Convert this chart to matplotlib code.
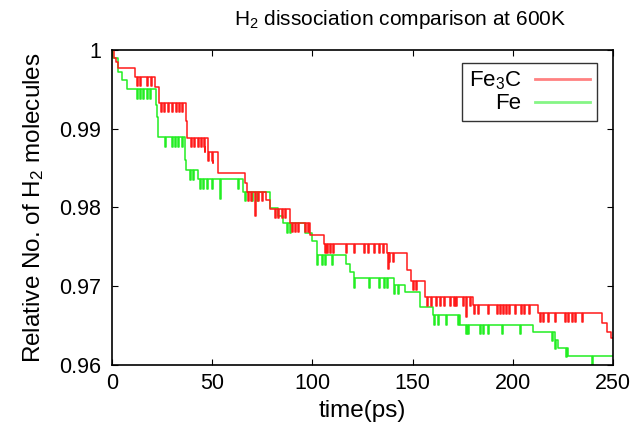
import numpy as np
import matplotlib
matplotlib.use("Agg")
import matplotlib.pyplot as plt

plt.rcParams["font.family"] = ["Liberation Sans", "DejaVu Sans"]
plt.rcParams["mathtext.default"] = "regular"

_RED = "#ff1a1a"
_GREEN = "#22ee22"

# step levels (time in ps, relative number of H2 molecules)
fe3c_t = [0, 1, 2, 3, 11.5, 21.5, 23.5, 37, 37.5, 46.5, 50.5, 53, 66.5, 67.5, 77, 79,
          89, 99, 106, 137, 147, 149, 156, 180, 212.5, 244.5, 247, 249]
fe3c_v = [1.0, 0.9990, 0.9985, 0.99775, 0.99661, 0.99534, 0.99327, 0.9910, 0.98883,
          0.98705, 0.98565, 0.98438, 0.98311, 0.98197, 0.98095, 0.97981, 0.97803,
          0.97651, 0.97537, 0.97422, 0.97206, 0.97067, 0.96863, 0.96762, 0.96660,
          0.96533, 0.96419, 0.96343]

fe_t = [0, 0.5, 3, 5, 7.5, 22, 22.5, 23, 36.5, 37, 43, 65.5, 79, 83, 85.5, 96.5, 100,
        102.5, 116.5, 118.5, 120.5, 137.5, 146, 153.5, 160, 173.5, 210, 220, 222.5, 227.5]
fe_v = [1.0, 0.9990, 0.9972, 0.9962, 0.9950, 0.9930, 0.9915, 0.9889, 0.9860, 0.9847,
        0.9836, 0.9820, 0.9799, 0.9789, 0.9780, 0.9768, 0.9757, 0.9739, 0.9728,
        0.9718, 0.9710, 0.9702, 0.9692, 0.9673, 0.9663, 0.9651, 0.9642, 0.9632,
        0.9622, 0.9611]

# short-lived dips (time in ps, depth in units of the relative count)
fe3c_spike_t = [12.5, 14, 17.5, 19.5, 24.5, 26, 28, 30, 32, 33.5, 35, 39.5, 41, 43,
                44.5, 46, 48, 50, 68, 69.5, 71.5, 73, 75, 81.5, 83, 85, 86.5, 90, 91.5,
                93, 96.5, 98, 106.5, 107.5, 109, 110.5, 116.5, 120.5, 125.5, 127.5,
                130.5, 133, 135, 137.5, 138, 140, 150, 151.5, 157, 159, 161.5, 163.5,
                165.5, 168.5, 170.5, 171.5, 175, 176.5, 178.5, 180.5, 182.5, 187.5,
                192, 193.5, 195, 196.5, 198, 201, 204, 205.5, 208, 213.5, 215, 217.5,
                221, 226, 227.5, 229.5, 231, 234.5]
fe3c_spike_d = [0.0012, 0.0012, 0.0012, 0.0012, 0.0012, 0.0012, 0.0012, 0.0012, 0.0012,
                0.0012, 0.0012, 0.0012, 0.0012, 0.0012, 0.0012, 0.0012, 0.0012, 0.0012,
                0.0012, 0.0012, 0.0030, 0.0012, 0.0012, 0.0012, 0.0012, 0.0012, 0.0012,
                0.0012, 0.0012, 0.0012, 0.0012, 0.0012, 0.0012, 0.0012, 0.0012, 0.0012,
                0.0012, 0.0012, 0.0012, 0.0012, 0.0012, 0.0012, 0.0012, 0.0020, 0.0012,
                0.0012, 0.0012, 0.0012, 0.0012, 0.0012, 0.0012, 0.0012, 0.0012, 0.0012,
                0.0012, 0.0012, 0.0012, 0.0025, 0.0012, 0.0012, 0.0012, 0.0012, 0.0012,
                0.0012, 0.0012, 0.0012, 0.0012, 0.0012, 0.0012, 0.0012, 0.0012, 0.0012,
                0.0012, 0.0012, 0.0012, 0.0012, 0.0012, 0.0012, 0.0012, 0.0012]

fe_spike_t = [12.5, 14, 15.5, 17.5, 19, 26.5, 30, 31.5, 33, 35, 39, 40.5, 44, 45.5,
              47.5, 50, 54, 63, 66.5, 70, 72.5, 87.5, 89, 102.5, 105, 106.5, 110,
              120.5, 128, 133, 135.5, 137, 140.5, 142.5, 160.5, 162.5, 166.5, 172.5,
              176.5, 177.5, 183.5, 185, 187.5, 194.5, 203.5, 219.5, 221, 226.5, 239.5]
fe_spike_d = [0.0012, 0.0012, 0.0012, 0.0012, 0.0012, 0.0012, 0.0012, 0.0012, 0.0012,
              0.0012, 0.0012, 0.0012, 0.0012, 0.0012, 0.0012, 0.0012, 0.0025, 0.0012,
              0.0012, 0.0012, 0.0012, 0.0012, 0.0012, 0.0012, 0.0012, 0.0012, 0.0012,
              0.0012, 0.0012, 0.0012, 0.0012, 0.0012, 0.0012, 0.0012, 0.0012, 0.0012,
              0.0012, 0.0012, 0.0012, 0.0012, 0.0012, 0.0012, 0.0012, 0.0012, 0.0012,
              0.0012, 0.0012, 0.0012, 0.0012]

t_end = 250
x_ticks = [0, 50, 100, 150, 200, 250]
y_ticks = [0.96, 0.97, 0.98, 0.99, 1.0]
y_ticklabels = ["0.96", "0.97", "0.98", "0.99", "1"]


def _series(step_t, step_v, spike_t, spike_d, width=0.5):
    step_t = np.asarray(step_t, float)
    step_v = np.asarray(step_v, float)
    ts = list(step_t)
    vs = list(step_v)
    for t, d in zip(spike_t, spike_d):
        level = step_v[np.searchsorted(step_t, t, side="right") - 1]
        ts += [t, t + width]
        vs += [level - d, level]
    ts.append(t_end)
    vs.append(step_v[-1])
    order = np.argsort(ts, kind="stable")
    return np.asarray(ts)[order], np.asarray(vs)[order]


fig = plt.figure(figsize=(6.38, 4.37), dpi=100)
ax = fig.add_axes([0.1755, 0.165, 0.7855, 0.7205])

x, y = _series(fe3c_t, fe3c_v, fe3c_spike_t, fe3c_spike_d)
ax.plot(x, y, drawstyle="steps-post", color=_RED, lw=1.1, label="Fe$_3$C")
x, y = _series(fe_t, fe_v, fe_spike_t, fe_spike_d)
ax.plot(x, y, drawstyle="steps-post", color=_GREEN, lw=1.1, label="Fe", zorder=1.9)

ax.set_xlim(0, 250)
ax.set_ylim(0.96, 1.0)
ax.set_xticks(x_ticks)
ax.set_yticks(y_ticks)
ax.set_yticklabels(y_ticklabels)
ax.tick_params(direction="in", top=True, right=True, length=4, width=0.8,
               labelsize=15.5)
ax.tick_params(axis="y", pad=8)
ax.tick_params(axis="x", pad=6)
for sp in ax.spines.values():
    sp.set_linewidth(1.2)

fig.text(0.627, 0.955, "H$_2$ dissociation comparison at 600K", fontsize=15,
         ha="center", va="center")
ax.set_xlabel("time(ps)", fontsize=17.5, labelpad=4)
ax.set_ylabel("Relative No. of H$_2$ molecules", fontsize=17.5, labelpad=9)

leg = ax.legend(loc="upper right", bbox_to_anchor=(0.968, 0.959), markerfirst=False,
                fontsize=16, frameon=True, fancybox=False, handlelength=2.5,
                handletextpad=0.6, borderpad=0.3, labelspacing=0.05,
                borderaxespad=0.0)
leg.get_frame().set_edgecolor("black")
leg.get_frame().set_linewidth(1.0)
for line in leg.get_lines():
    line.set_alpha(0.55)
    line.set_linewidth(2.0)

fig.savefig("out.png", dpi=100)
